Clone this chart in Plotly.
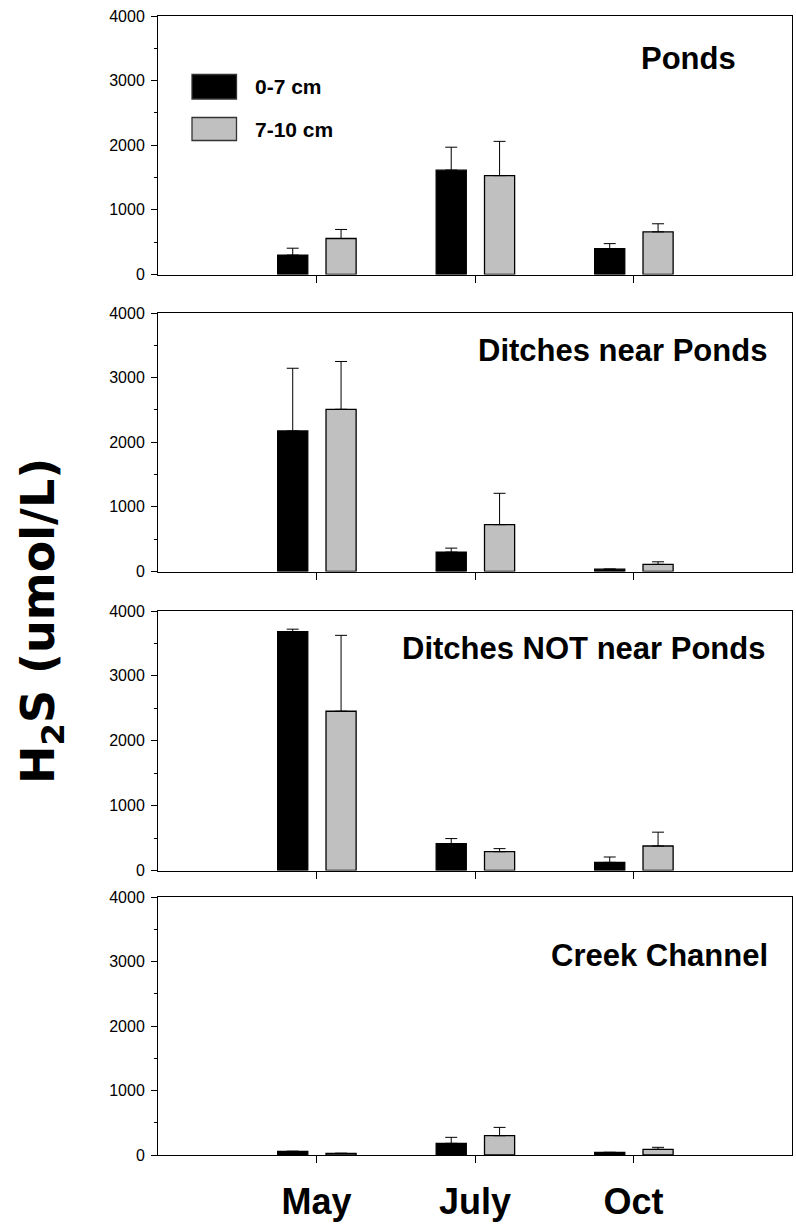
import plotly.graph_objects as go

# ---- data -------------------------------------------------------------
months = ["May", "July", "Oct"]
panel_titles = ["Ponds", "Ditches near Ponds", "Ditches NOT near Ponds", "Creek Channel"]
depth_labels = ["0-7 cm", "7-10 cm"]

ponds_0_7 = [300, 1615, 400]
ponds_0_7_err = [107, 355, 78]
ponds_7_10 = [557, 1530, 660]
ponds_7_10_err = [140, 530, 125]

near_0_7 = [2175, 300, 36]
near_0_7_err = [970, 62, 0]
near_7_10 = [2510, 725, 110]
near_7_10_err = [740, 485, 40]

notnear_0_7 = [3680, 415, 125]
notnear_0_7_err = [40, 77, 83]
notnear_7_10 = [2455, 290, 378]
notnear_7_10_err = [1170, 47, 213]

creek_0_7 = [57, 181, 41]
creek_0_7_err = [0, 93, 0]
creek_7_10 = [26, 299, 88]
creek_7_10_err = [0, 129, 31]

panels = [
    (ponds_0_7, ponds_0_7_err, ponds_7_10, ponds_7_10_err),
    (near_0_7, near_0_7_err, near_7_10, near_7_10_err),
    (notnear_0_7, notnear_0_7_err, notnear_7_10, notnear_7_10_err),
    (creek_0_7, creek_0_7_err, creek_7_10, creek_7_10_err),
]

# ---- layout geometry (pixels) -----------------------------------------
W, H = 796, 1226
L, R, T, B = 158, 4, 16, 71
plot_w = W - L - R
plot_h = H - T - B


def px_x(px):
    return (px - L) / plot_w


def px_y(py):
    return (H - B - py) / plot_h


# top/bottom pixel rows of each panel
panel_rows = [(16, 274.5), (313, 571.5), (611, 870.5), (897, 1155)]

FONT = "Liberation Sans, Arial, sans-serif"
WIDE_FONT = "DejaVu Sans, Liberation Sans, sans-serif"
BLACK = "#000000"
GRAY = "#c0c0c0"

fig = go.Figure()
xpos = [1, 2, 3]

for i, (a, ae, b, be) in enumerate(panels):
    n = "" if i == 0 else str(i + 1)
    for vals, errs, fill, off in ((a, ae, BLACK, -0.245), (b, be, GRAY, 0.06)):
        fig.add_trace(go.Bar(
            x=xpos, y=vals, width=0.19, offset=off,
            marker=dict(color=fill, line=dict(color="black", width=1.3)),
            error_y=dict(type="data", array=errs, arrayminus=[0] * len(errs),
                         symmetric=False, color="black", thickness=1, width=6),
            xaxis="x" + n, yaxis="y" + n, showlegend=False,
        ))

axis_common = dict(showline=True, linecolor="black", linewidth=1, mirror=True,
                   showgrid=False, zeroline=False)

for i, (top, bot) in enumerate(panel_rows):
    n = "" if i == 0 else str(i + 1)
    last = i == len(panel_rows) - 1
    fig.layout["xaxis" + n] = dict(
        axis_common, range=[0, 4], domain=[0, 1], anchor="y" + n,
        tickmode="array", tickvals=xpos, ticktext=months,
        ticks="outside", ticklen=7, tickwidth=1, tickcolor="black",
        showticklabels=last,
        tickfont=dict(family=FONT, size=36, color="black", weight="bold"),
        ticklabelstandoff=8,
    )
    fig.layout["yaxis" + n] = dict(
        axis_common, range=[0, 4000], domain=[px_y(bot), px_y(top)],
        anchor="x" + n, tickvals=[0, 1000, 2000, 3000, 4000],
        ticks="outside", ticklen=6, tickwidth=1, tickcolor="black",
        minor=dict(tickvals=[500, 1500, 2500, 3500], ticks="outside",
                   ticklen=3, tickwidth=1, tickcolor="black"),
        tickfont=dict(family=FONT, size=16, color="black"),
        ticklabelstandoff=3,
    )

# panel titles
title_pos = [(738, 58), (769, 350), (767, 648), (770, 955)]
annotations = []
for text, (xr, yc) in zip(panel_titles, title_pos):
    annotations.append(dict(
        text=text, xref="paper", yref="paper", x=px_x(xr), y=px_y(yc),
        xanchor="right", yanchor="middle", showarrow=False,
        font=dict(family=FONT, size=31, color="black", weight="bold"),
    ))

# y axis title
annotations.append(dict(
    text="H<sub>2</sub>S (umol/L)", xref="paper", yref="paper",
    x=px_x(41), y=px_y(621), xanchor="center", yanchor="middle",
    textangle=-90, showarrow=False,
    font=dict(family=WIDE_FONT, size=46, color="black", weight="bold"),
))

# legend
shapes = []
legend_rows = [(BLACK, 74.5, 99), (GRAY, 117.5, 140.5)]
for label, (fill, y0, y1) in zip(depth_labels, legend_rows):
    shapes.append(dict(type="rect", xref="paper", yref="paper",
                       x0=px_x(192), x1=px_x(236.5), y0=px_y(y1), y1=px_y(y0),
                       fillcolor=fill, line=dict(color="#333333", width=1.3)))
    annotations.append(dict(
        text=label, xref="paper", yref="paper", x=px_x(253), y=px_y((y0 + y1) / 2),
        xanchor="left", yanchor="middle", showarrow=False,
        font=dict(family=FONT, size=21, color="black", weight="bold"),
    ))

fig.update_layout(
    width=W, height=H, margin=dict(l=L, r=R, t=T, b=B),
    paper_bgcolor="white", plot_bgcolor="white",
    barmode="overlay", showlegend=False,
    annotations=annotations, shapes=shapes,
)

fig.write_html("out.html")
